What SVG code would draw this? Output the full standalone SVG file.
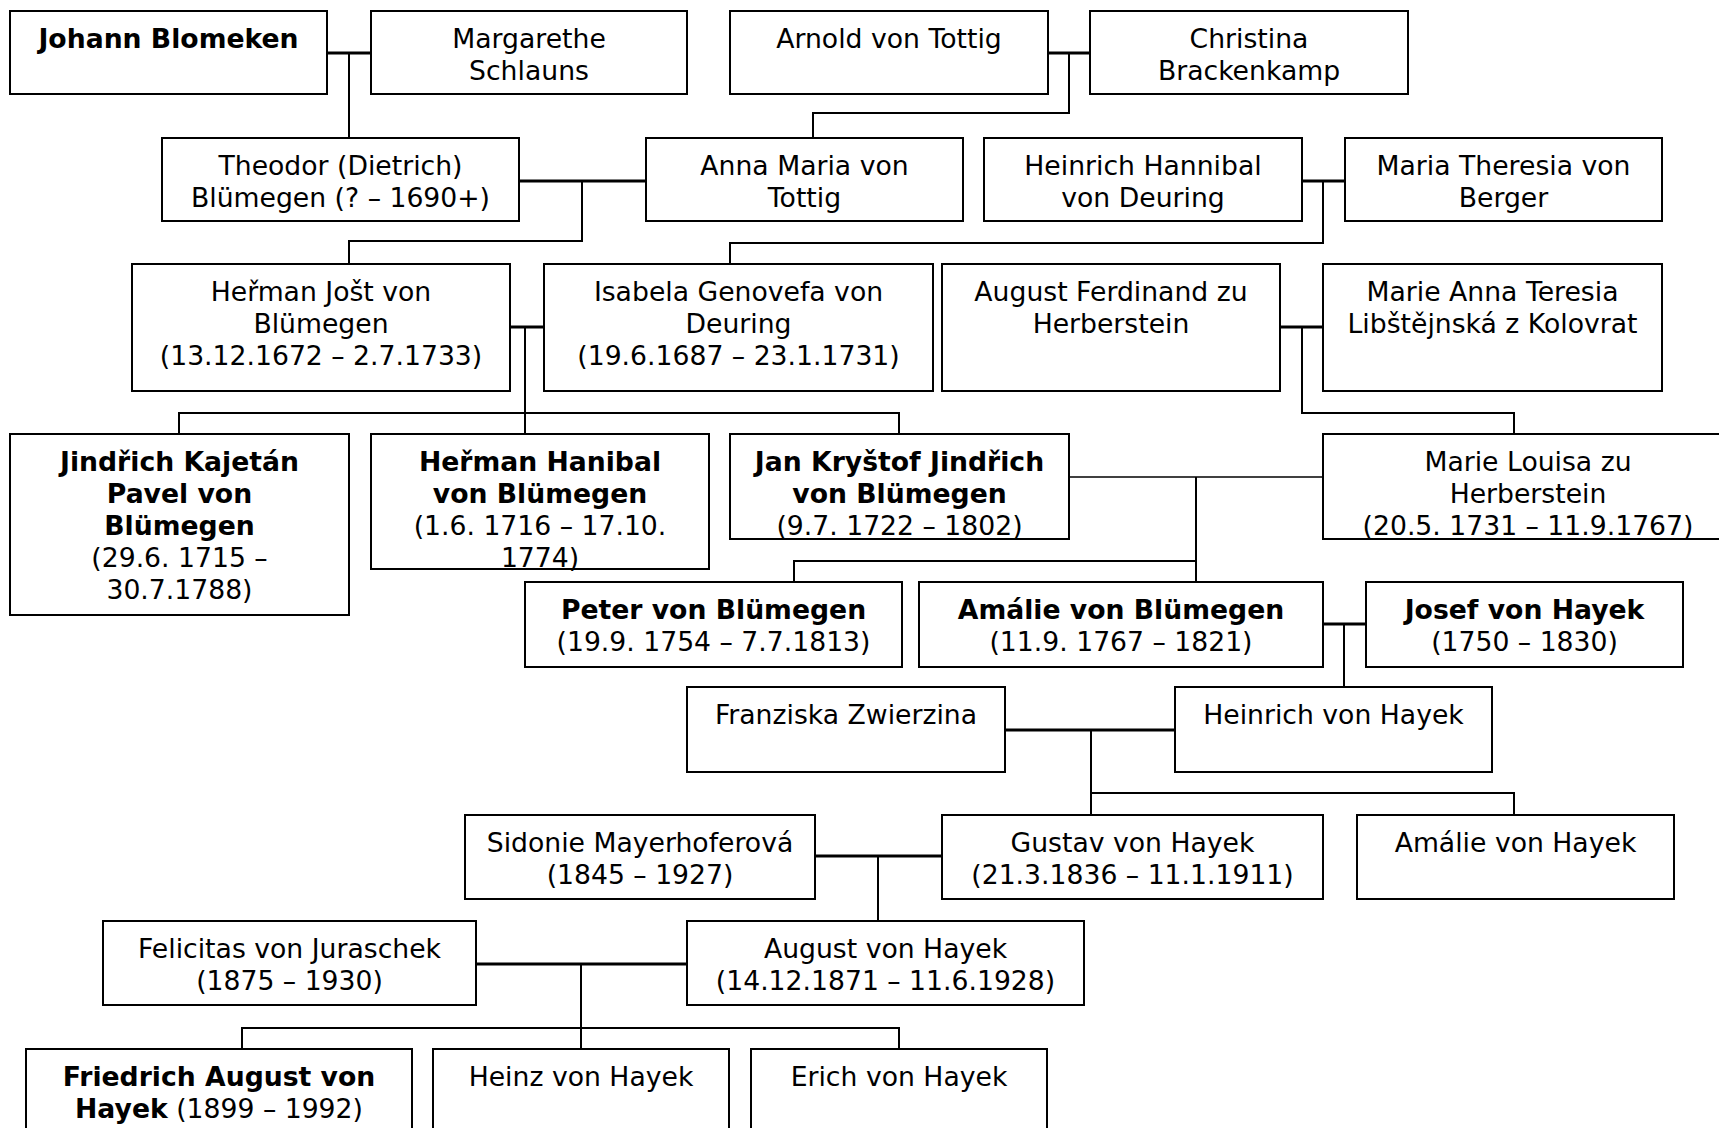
<svg xmlns="http://www.w3.org/2000/svg" width="1719" height="1128" viewBox="0 0 1719 1128">
<style>
rect.b{fill:#fff;stroke:#000;stroke-width:2}
text{font-family:"DejaVu Sans","Verdana",sans-serif;font-size:26.67px;fill:#000;text-anchor:middle}
.bd{font-weight:bold}
.sp{stroke:#000;stroke-width:3;fill:none}
.ch{stroke:#000;stroke-width:2;fill:none}
.th{stroke:#000;stroke-width:1.6;fill:none}
</style>
<rect width="1719" height="1128" fill="#fff"/>
<g id="connectors">
<path class="sp" d="M327 53H371"/>
<path class="ch" d="M349 53V138"/>
<path class="sp" d="M1048 53H1090"/>
<path class="ch" d="M1069 53V113H813V138"/>
<path class="sp" d="M519 181H646"/>
<path class="ch" d="M582 181V241H349V264"/>
<path class="sp" d="M1302 181H1345"/>
<path class="ch" d="M1323 181V243H730V264"/>
<path class="sp" d="M510 327H544"/>
<path class="ch" d="M525 327V434"/>
<path class="ch" d="M179 434V413H899V434"/>
<path class="sp" d="M1280 327H1323"/>
<path class="ch" d="M1302 327V413H1514V434"/>
<path class="th" d="M1069 477H1323"/>
<path class="ch" d="M1196 477V582"/>
<path class="ch" d="M794 582V561H1196"/>
<path class="sp" d="M1323 624H1366"/>
<path class="ch" d="M1344 624V687"/>
<path class="sp" d="M1005 730H1175"/>
<path class="ch" d="M1091 730V815"/>
<path class="ch" d="M1091 793H1514V815"/>
<path class="sp" d="M815 856H942"/>
<path class="ch" d="M878 856V921"/>
<path class="sp" d="M476 964H687"/>
<path class="ch" d="M581 964V1049"/>
<path class="ch" d="M242 1049V1028H899V1049"/>
</g>
<g id="johann"><rect class="b" x="10" y="11" width="317" height="83"/><text x="168.5" y="48" class="bd">Johann Blomeken</text></g>
<g id="margarethe"><rect class="b" x="371" y="11" width="316" height="83"/><text x="529" y="48">Margarethe</text><text x="529" y="80">Schlauns</text></g>
<g id="arnold"><rect class="b" x="730" y="11" width="318" height="83"/><text x="889" y="48">Arnold von Tottig</text></g>
<g id="christina"><rect class="b" x="1090" y="11" width="318" height="83"/><text x="1249" y="48">Christina</text><text x="1249" y="80">Brackenkamp</text></g>
<g id="theodor"><rect class="b" x="162" y="138" width="357" height="83"/><text x="340.5" y="175">Theodor (Dietrich)</text><text x="340.5" y="207">Blümegen (? – 1690+)</text></g>
<g id="anna"><rect class="b" x="646" y="138" width="317" height="83"/><text x="804.5" y="175">Anna Maria von</text><text x="804.5" y="207">Tottig</text></g>
<g id="heinrichhannibal"><rect class="b" x="984" y="138" width="318" height="83"/><text x="1143" y="175">Heinrich Hannibal</text><text x="1143" y="207">von Deuring</text></g>
<g id="mariatheresia"><rect class="b" x="1345" y="138" width="317" height="83"/><text x="1503.5" y="175">Maria Theresia von</text><text x="1503.5" y="207">Berger</text></g>
<g id="hermanjost"><rect class="b" x="132" y="264" width="378" height="127"/><text x="321" y="301">Heřman Jošt von</text><text x="321" y="333">Blümegen</text><text x="321" y="365">(13.12.1672 – 2.7.1733)</text></g>
<g id="isabela"><rect class="b" x="544" y="264" width="389" height="127"/><text x="738.5" y="301">Isabela Genovefa von</text><text x="738.5" y="333">Deuring</text><text x="738.5" y="365">(19.6.1687 – 23.1.1731)</text></g>
<g id="augustferdinand"><rect class="b" x="942" y="264" width="338" height="127"/><text x="1111" y="301">August Ferdinand zu</text><text x="1111" y="333">Herberstein</text></g>
<g id="marieanna"><rect class="b" x="1323" y="264" width="339" height="127"/><text x="1492.5" y="301">Marie Anna Teresia</text><text x="1492.5" y="333">Libštějnská z Kolovrat</text></g>
<g id="jindrich"><rect class="b" x="10" y="434" width="339" height="181"/><text x="179.5" y="471" class="bd">Jindřich Kajetán</text><text x="179.5" y="503" class="bd">Pavel von</text><text x="179.5" y="535" class="bd">Blümegen</text><text x="179.5" y="567">(29.6. 1715 –</text><text x="179.5" y="599">30.7.1788)</text></g>
<g id="hermanhanibal"><rect class="b" x="371" y="434" width="338" height="135"/><text x="540" y="471" class="bd">Heřman Hanibal</text><text x="540" y="503" class="bd">von Blümegen</text><text x="540" y="535">(1.6. 1716 – 17.10.</text><text x="540" y="567">1774)</text></g>
<g id="jankrystof"><rect class="b" x="730" y="434" width="339" height="105"/><text x="899.5" y="471" class="bd">Jan Kryštof Jindřich</text><text x="899.5" y="503" class="bd">von Blümegen</text><text x="899.5" y="535">(9.7. 1722 – 1802)</text></g>
<g id="marielouisa"><rect class="b" x="1323" y="434" width="410" height="105"/><text x="1528" y="471">Marie Louisa zu</text><text x="1528" y="503">Herberstein</text><text x="1528" y="535">(20.5. 1731 – 11.9.1767)</text></g>
<g id="peter"><rect class="b" x="525" y="582" width="377" height="85"/><text x="713.5" y="619" class="bd">Peter von Blümegen</text><text x="713.5" y="651">(19.9. 1754 – 7.7.1813)</text></g>
<g id="amalieb"><rect class="b" x="919" y="582" width="404" height="85"/><text x="1121" y="619" class="bd">Amálie von Blümegen</text><text x="1121" y="651">(11.9. 1767 – 1821)</text></g>
<g id="josef"><rect class="b" x="1366" y="582" width="317" height="85"/><text x="1524.5" y="619" class="bd">Josef von Hayek</text><text x="1524.5" y="651">(1750 – 1830)</text></g>
<g id="franziska"><rect class="b" x="687" y="687" width="318" height="85"/><text x="846" y="724">Franziska Zwierzina</text></g>
<g id="heinrichhayek"><rect class="b" x="1175" y="687" width="317" height="85"/><text x="1333.5" y="724">Heinrich von Hayek</text></g>
<g id="sidonie"><rect class="b" x="465" y="815" width="350" height="84"/><text x="640" y="852">Sidonie Mayerhoferová</text><text x="640" y="884">(1845 – 1927)</text></g>
<g id="gustav"><rect class="b" x="942" y="815" width="381" height="84"/><text x="1132.5" y="852">Gustav von Hayek</text><text x="1132.5" y="884">(21.3.1836 – 11.1.1911)</text></g>
<g id="amaliehayek"><rect class="b" x="1357" y="815" width="317" height="84"/><text x="1515.5" y="852">Amálie von Hayek</text></g>
<g id="felicitas"><rect class="b" x="103" y="921" width="373" height="84"/><text x="289.5" y="958">Felicitas von Juraschek</text><text x="289.5" y="990">(1875 – 1930)</text></g>
<g id="august"><rect class="b" x="687" y="921" width="397" height="84"/><text x="885.5" y="958">August von Hayek</text><text x="885.5" y="990">(14.12.1871 – 11.6.1928)</text></g>
<g id="friedrich"><rect class="b" x="26" y="1049" width="386" height="90"/><text x="219" y="1086" class="bd">Friedrich August von</text><text x="219" y="1118"><tspan class="bd">Hayek</tspan> (1899 – 1992)</text></g>
<g id="heinz"><rect class="b" x="433" y="1049" width="296" height="90"/><text x="581" y="1086">Heinz von Hayek</text></g>
<g id="erich"><rect class="b" x="751" y="1049" width="296" height="90"/><text x="899" y="1086">Erich von Hayek</text></g>
</svg>
